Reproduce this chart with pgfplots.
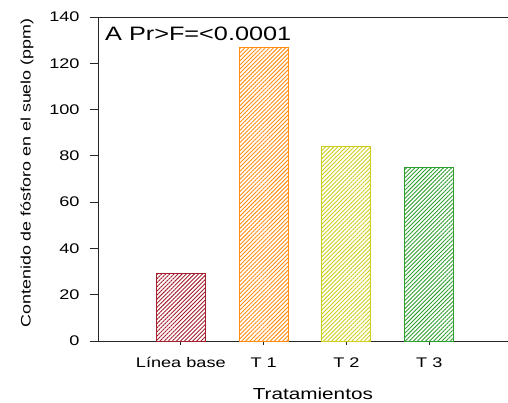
\documentclass[border=0pt]{standalone}
\usepackage{fontspec}
\setmainfont{Liberation Sans}[FakeStretch=1.3]
\usepackage{pgfplots}
\pgfplotsset{compat=1.18}
\usetikzlibrary{patterns.meta}
\definecolor{cBase}{HTML}{A3202E}
\definecolor{cT1}{HTML}{FF8C10}
\definecolor{cT2}{HTML}{CDCD1E}
\definecolor{cT3}{HTML}{2E9E2E}
\begin{document}
\begin{tikzpicture}
\begin{axis}[
  name=ax,
  scale only axis,
  width=410bp, height=324bp,
  xmin=-1, xmax=3.95,
  ymin=0, ymax=140,
  axis lines*=left,
  axis line style={line width=0.8bp, black!85},
  ybar, bar width=49bp, bar shift=0pt,
  xtick={0,1,2,3},
  xticklabels={L\'{\i}nea base, T 1, T 2, T 3},
  ytick={0,20,...,140},
  minor tick num=0,
  tick align=outside,
  xtick style={/pgfplots/major tick length=4bp, line width=0.8bp, black!85},
  ytick style={/pgfplots/major tick length=8bp, line width=0.8bp, black!85},
  /pgf/number format/assume math mode=true,
  ticklabel style={font=\fontsize{14}{16}\selectfont},
  xticklabel style={anchor=base, inner sep=0pt, yshift=-22bp},
  yticklabel style={anchor=east, inner sep=0pt, xshift=-14bp},
  xlabel={Tratamientos},
  xlabel style={font=\fontsize{16}{18}\selectfont, at={(axis description cs:0.524,-0.1728)}, anchor=base, inner sep=0pt, yshift=-3bp},
  ylabel={Contenido de f\'osforo en el suelo (ppm)},
  ylabel style={font=\fontsize{13.8}{16}\selectfont, at={(axis description cs:-0.1732,0.5185)}, anchor=center, rotate=0, inner sep=0pt},
  clip=false,
]
\addplot[draw=cBase, line width=1bp, pattern={Lines[angle=45,distance=2.9pt,line width=0.9pt]}, pattern color=cBase] coordinates {(0,29)};
\addplot[draw=cT1, line width=1bp, pattern={Lines[angle=45,distance=2.9pt,line width=0.9pt]}, pattern color=cT1] coordinates {(1,127)};
\addplot[draw=cT2, line width=1bp, pattern={Lines[angle=45,distance=2.9pt,line width=0.9pt]}, pattern color=cT2] coordinates {(2,84)};
\addplot[draw=cT3, line width=1bp, pattern={Lines[angle=45,distance=2.9pt,line width=0.9pt]}, pattern color=cT3] coordinates {(3,75)};
\draw[line width=0.8bp, black!85] (rel axis cs:0,1) -- (rel axis cs:1,1);
\node[anchor=base west, inner sep=0pt, font=\fontsize{19.5}{22}\selectfont] at ([xshift=7bp,yshift=-24bp]rel axis cs:0,1) {A Pr>F=<0.0001};
\end{axis}
\pgfresetboundingbox
\path ([xshift=-98bp,yshift=-62bp]ax.south west) rectangle ([yshift=17bp]ax.north east);
\end{tikzpicture}
\end{document}
